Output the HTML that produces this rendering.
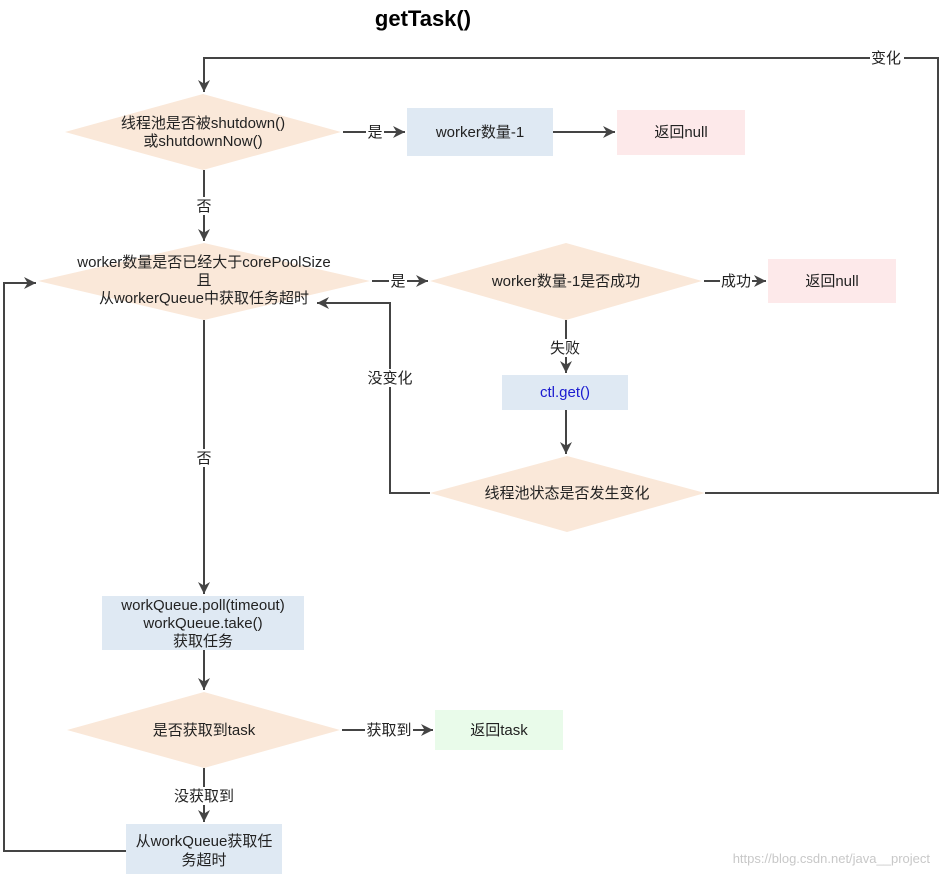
<!DOCTYPE html>
<html><head><meta charset="utf-8"><style>
html,body{margin:0;padding:0;background:#fff;}
svg{display:block;}
text{font-family:"Liberation Sans","Noto Sans CJK SC",sans-serif;font-size:15px;fill:#222;}
</style></head><body>
<svg width="940" height="876" viewBox="0 0 940 876" xmlns="http://www.w3.org/2000/svg">
<defs>
<marker id="a" viewBox="0 0 10 10" refX="10" refY="5" markerWidth="12" markerHeight="12" markerUnits="userSpaceOnUse" orient="auto">
<path d="M0,0 L10,5 L0,10 L3,5 Z" fill="#444"/></marker>
</defs>
<rect width="940" height="876" fill="#fff"/>
<text x="423" y="26" text-anchor="middle" style="font-size:22px;font-weight:bold;fill:#000">getTask()</text>

<g fill="#fae8d9">
<polygon points="65,132 203,94 341,132 203,170"/>
<polygon points="38,281 204,243 370,281 204,320"/>
<polygon points="430,281 566,243 702,281 566,320"/>
<polygon points="430,493 567,456 705,493 567,532"/>
<polygon points="67,730 204,692 340,730 204,768"/>
</g>
<rect x="407" y="108" width="146" height="48" fill="#dfe9f3"/>
<rect x="617" y="110" width="128" height="45" fill="#fde9ea"/>
<rect x="768" y="259" width="128" height="44" fill="#fde9ea"/>
<rect x="502" y="375" width="126" height="35" fill="#dfe9f3"/>
<rect x="102" y="596" width="202" height="54" fill="#dfe9f3"/>
<rect x="435" y="710" width="128" height="40" fill="#e9fbea"/>
<rect x="126" y="824" width="156" height="50" fill="#dfe9f3"/>

<g stroke="#444" stroke-width="2" fill="none">
<line x1="343" y1="132" x2="405" y2="132" marker-end="url(#a)"/>
<line x1="553" y1="132" x2="615" y2="132" marker-end="url(#a)"/>
<line x1="204" y1="170" x2="204" y2="241" marker-end="url(#a)"/>
<line x1="372" y1="281" x2="428" y2="281" marker-end="url(#a)"/>
<line x1="704" y1="281" x2="766" y2="281" marker-end="url(#a)"/>
<line x1="566" y1="320" x2="566" y2="373" marker-end="url(#a)"/>
<line x1="566" y1="410" x2="566" y2="454" marker-end="url(#a)"/>
<polyline points="430,493 390,493 390,303 317,303" marker-end="url(#a)"/>
<polyline points="705,493 938,493 938,58 204,58 204,92" marker-end="url(#a)"/>
<line x1="204" y1="320" x2="204" y2="594" marker-end="url(#a)"/>
<line x1="204" y1="650" x2="204" y2="690" marker-end="url(#a)"/>
<line x1="342" y1="730" x2="433" y2="730" marker-end="url(#a)"/>
<line x1="204" y1="768" x2="204" y2="822" marker-end="url(#a)"/>
<polyline points="126,851 4,851 4,283 36,283" marker-end="url(#a)"/>
</g>

<g text-anchor="middle">
<text x="203" y="128">线程池是否被shutdown()</text>
<text x="203" y="146">或shutdownNow()</text>
<text x="480" y="137">worker数量-1</text>
<text x="681" y="137">返回null</text>
<text x="204" y="267">worker数量是否已经大于corePoolSize</text>
<text x="204" y="285">且</text>
<text x="204" y="303">从workerQueue中获取任务超时</text>
<text x="566" y="286">worker数量-1是否成功</text>
<text x="832" y="286">返回null</text>
<text x="565" y="397" style="fill:#1a1ad0">ctl.get()</text>
<text x="567" y="498">线程池状态是否发生变化</text>
<text x="203" y="610">workQueue.poll(timeout)</text>
<text x="203" y="628">workQueue.take()</text>
<text x="203" y="646">获取任务</text>
<text x="204" y="735">是否获取到task</text>
<text x="499" y="735">返回task</text>
<text x="204" y="846">从workQueue获取任</text>
<text x="204" y="865">务超时</text>
</g>

<g text-anchor="middle">
<rect x="366" y="123" width="18" height="18" fill="#fff"/><text x="375" y="137">是</text>
<rect x="195" y="197" width="18" height="18" fill="#fff"/><text x="204" y="211">否</text>
<rect x="389" y="272" width="18" height="18" fill="#fff"/><text x="398" y="286">是</text>
<rect x="720" y="272" width="32" height="18" fill="#fff"/><text x="736" y="286">成功</text>
<rect x="549" y="339" width="34" height="18" fill="#fff"/><text x="565" y="353">失败</text>
<rect x="366" y="369" width="48" height="18" fill="#fff"/><text x="390" y="383">没变化</text>
<rect x="870" y="49" width="34" height="18" fill="#fff"/><text x="886" y="63">变化</text>
<rect x="195" y="449" width="18" height="18" fill="#fff"/><text x="204" y="463">否</text>
<rect x="365" y="721" width="48" height="18" fill="#fff"/><text x="389" y="735">获取到</text>
<rect x="172" y="787" width="64" height="18" fill="#fff"/><text x="204" y="801">没获取到</text>
</g>
<text x="930" y="863" text-anchor="end" style="font-size:13px;fill:#c8c8c8">https://blog.csdn.net/java__project</text>
</svg>
</body></html>
